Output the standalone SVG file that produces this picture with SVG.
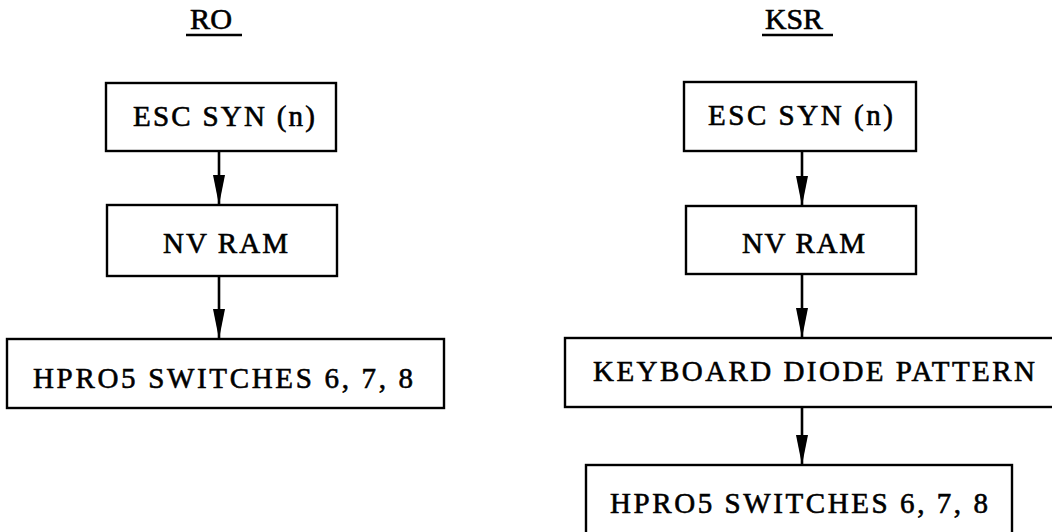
<svg xmlns="http://www.w3.org/2000/svg" width="1052" height="532" viewBox="0 0 1052 532">
<style>
.box{fill:#fff;stroke:#000;stroke-width:2.4}
.t{font-family:"Liberation Serif","Times New Roman",serif;font-size:29px;fill:#000;stroke:#000;stroke-width:0.6}
.h{font-family:"Liberation Serif","Times New Roman",serif;font-size:29px;fill:#000;stroke:#000;stroke-width:0.6}
.ul{stroke:#000;stroke-width:2.4}
.c{stroke:#000;stroke-width:2.6;fill:none;marker-end:url(#ah)}
</style>
<defs>
<marker id="ah" markerUnits="userSpaceOnUse" markerWidth="32" markerHeight="14" viewBox="0 -7 32 14" refX="30" refY="0" orient="auto">
<path d="M0,-6 L30,0 L0,6 Z" fill="#000"/>
</marker>
</defs>
<rect width="1052" height="532" fill="#fff"/>
<g id="title-ro">
<text class="h" x="190" y="29" textLength="42" lengthAdjust="spacingAndGlyphs">RO</text>
<line class="ul" x1="186" y1="35" x2="242" y2="35"/>
</g>
<g id="title-ksr">
<text class="h" x="765" y="29" textLength="58" lengthAdjust="spacingAndGlyphs">KSR</text>
<line class="ul" x1="762" y1="35" x2="833" y2="35"/>
</g>
<g id="ro-esc">
<rect class="box" x="106" y="83" width="230" height="68"/>
<text class="t" x="133" y="126" textLength="182" lengthAdjust="spacing">ESC SYN (n)</text>
</g>
<g id="ro-nvram">
<rect class="box" x="107" y="205" width="230" height="71"/>
<text class="t" x="163" y="253" textLength="125" lengthAdjust="spacing">NV RAM</text>
</g>
<g id="ro-hpro5">
<rect class="box" x="7" y="339" width="437" height="69"/>
<text class="t" x="33" y="388" textLength="380" lengthAdjust="spacing">HPRO5 SWITCHES 6, 7, 8</text>
</g>
<g id="ksr-esc">
<rect class="box" x="684" y="82" width="232" height="69"/>
<text class="t" x="708" y="125" textLength="185" lengthAdjust="spacing">ESC SYN (n)</text>
</g>
<g id="ksr-nvram">
<rect class="box" x="686" y="206" width="230" height="68"/>
<text class="t" x="742" y="253" textLength="123" lengthAdjust="spacing">NV RAM</text>
</g>
<g id="ksr-keyboard">
<rect class="box" x="565" y="338" width="500" height="69"/>
<text class="t" x="593" y="381" textLength="442" lengthAdjust="spacing">KEYBOARD DIODE PATTERN</text>
</g>
<g id="ksr-hpro5">
<rect class="box" x="586" y="465" width="426" height="80"/>
<text class="t" x="610" y="513" textLength="378" lengthAdjust="spacing">HPRO5 SWITCHES 6, 7, 8</text>
</g>
<g id="connectors">
<line class="c" x1="219" y1="151" x2="219" y2="205"/>
<line class="c" x1="219" y1="276" x2="219" y2="339"/>
<line class="c" x1="802" y1="151" x2="802" y2="206"/>
<line class="c" x1="802" y1="274" x2="802" y2="338"/>
<line class="c" x1="802" y1="407" x2="802" y2="465"/>
</g>
</svg>
